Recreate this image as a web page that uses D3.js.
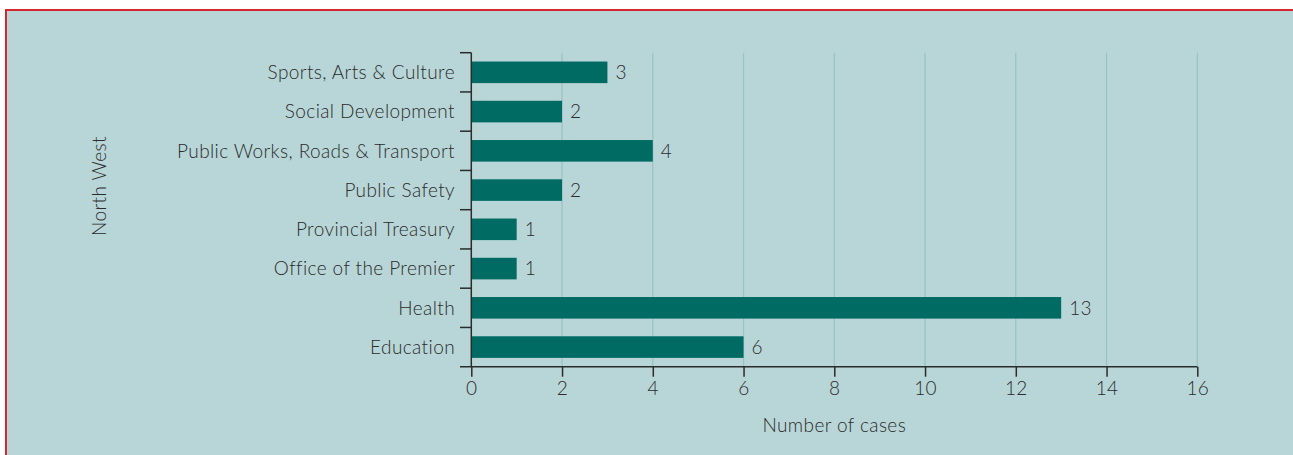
<!DOCTYPE html>
<html>
<head>
<meta charset="utf-8">
<script src="https://cdn.jsdelivr.net/npm/d3@7"></script>
<style>
  html, body { margin: 0; padding: 0; background: #fff; overflow: hidden; }
  svg { display: block; }
  text { font-family: "Lato", "Open Sans", sans-serif; font-weight: 300; fill: #2b2b2b; letter-spacing: 0.4px; }
</style>
</head>
<body>
<script>
// Departments (top to bottom) and number of cases per department
const categories = [
  "Sports, Arts & Culture",
  "Social Development",
  "Public Works, Roads & Transport",
  "Public Safety",
  "Provincial Treasury",
  "Office of the Premier",
  "Health",
  "Education"
];
const cases = [3, 2, 4, 2, 1, 1, 13, 6];
const xTicks = [0, 2, 4, 6, 8, 10, 12, 14, 16];
const yTitle = "North West";
const xTitle = "Number of cases";

const W = 1293, H = 455;
const FS = 19;
const svg = d3.select("body").append("svg").attr("width", W).attr("height", H);

// panel background with a red rule on top and left
svg.append("rect").attr("x", 6).attr("y", 10).attr("width", W - 6).attr("height", H - 10)
  .attr("fill", "#b8d6d7");
svg.append("line").attr("x1", 5).attr("x2", W).attr("y1", 10).attr("y2", 10)
  .attr("stroke", "#d6262f").attr("stroke-width", 2);
svg.append("line").attr("x1", 6).attr("x2", 6).attr("y1", 9).attr("y2", H)
  .attr("stroke", "#d6262f").attr("stroke-width", 2);

const plotLeft = 471.3, plotRight = 1197.3, plotTop = 52.7, plotBottom = 366.7;

const x = d3.scaleLinear().domain([0, 16]).range([plotLeft, plotRight]);
const y = d3.scaleBand().domain(categories).range([plotTop, plotBottom]).paddingInner(0.45).paddingOuter(0.225);

// vertical gridlines
svg.append("g").selectAll("line").data(xTicks.filter(d => d > 0)).join("line")
  .attr("x1", d => x(d)).attr("x2", d => x(d))
  .attr("y1", plotTop).attr("y2", plotBottom)
  .attr("stroke", "#98c2c3").attr("stroke-width", 1.2);

// bars
svg.append("g").selectAll("rect").data(categories).join("rect")
  .attr("x", x(0))
  .attr("y", d => y(d))
  .attr("width", (d, i) => x(cases[i]) - x(0))
  .attr("height", y.bandwidth())
  .attr("fill", "#006b63");

// value labels
svg.append("g").selectAll("text").data(categories).join("text")
  .attr("x", (d, i) => x(cases[i]) + 8)
  .attr("y", d => y(d) + y.bandwidth() / 2)
  .attr("dy", "0.36em")
  .attr("font-size", FS)
  .text((d, i) => cases[i]);

// x axis
const xAxis = svg.append("g").attr("transform", `translate(0,${plotBottom})`)
  .call(d3.axisBottom(x).tickValues(xTicks).tickSize(10).tickPadding(5).tickSizeOuter(0));
xAxis.select(".domain").remove();
xAxis.append("line").attr("x1", 460).attr("x2", plotRight).attr("stroke", "#2b2b2b").attr("stroke-width", 1.5);
xAxis.selectAll(".tick line").attr("stroke", "#2b2b2b").attr("stroke-width", 1.5).attr("y1", 0);
xAxis.selectAll(".tick text").attr("font-size", FS).attr("fill", "#2b2b2b")
  .style("font-family", "Lato, sans-serif").style("font-weight", 300);

// y axis: line plus ticks at band boundaries
const yAxis = svg.append("g");
yAxis.append("line").attr("x1", plotLeft).attr("x2", plotLeft).attr("y1", plotTop).attr("y2", plotBottom)
  .attr("stroke", "#2b2b2b").attr("stroke-width", 1.5);
const bounds = categories.map(c => y(c) - y.step() * y.paddingInner() / 2);
bounds[0] = plotTop;
yAxis.selectAll("line.t").data(bounds).join("line").attr("class", "t")
  .attr("x1", 460).attr("x2", plotLeft).attr("y1", d => d).attr("y2", d => d)
  .attr("stroke", "#2b2b2b").attr("stroke-width", 1.5);
yAxis.selectAll("text").data(categories).join("text")
  .attr("x", 455)
  .attr("y", d => y(d) + y.bandwidth() / 2)
  .attr("dy", "0.36em")
  .attr("text-anchor", "end")
  .attr("font-size", FS)
  .text(d => d);

// axis titles
svg.append("text").attr("x", (plotLeft + plotRight) / 2).attr("y", 432)
  .attr("text-anchor", "middle").attr("font-size", FS).text(xTitle);
svg.append("text").attr("transform", "translate(106,186) rotate(-90)")
  .attr("text-anchor", "middle").attr("font-size", FS).text(yTitle);
</script>
</body>
</html>
